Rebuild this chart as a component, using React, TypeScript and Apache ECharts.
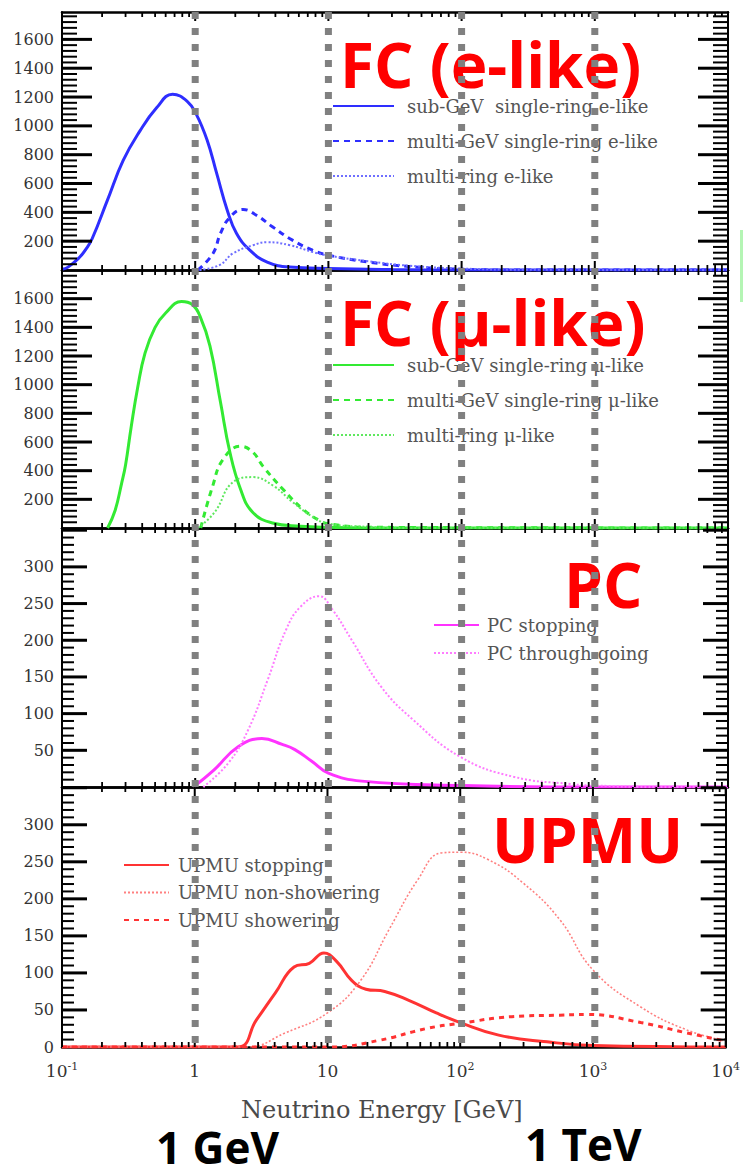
import React, { useEffect, useRef } from 'react';
import * as echarts from 'echarts';

// ---------------- data (energy in GeV, events) ----------------
// Panel 1: FC (e-like)
const subGeVeEnergy = [0.1, 0.111, 0.136, 0.15, 0.168, 0.219, 0.288, 0.385, 0.513, 0.676, 0.871, 1.02, 1.23, 1.45, 1.74, 2.04, 2.57, 3.47, 5.13, 10, 30, 100, 10000];
const subGeVeCount = [5, 20, 90, 140, 215, 483, 760, 965, 1125, 1220, 1170, 1080, 900, 670, 415, 255, 138, 55, 20, 10, 3, 0, 0];
const multiGeVeEnergy = [1.05, 1.36, 1.55, 1.82, 2.29, 2.88, 3.8, 5.37, 7.6, 10, 20, 40, 100, 300, 10000];
const multiGeVeCount = [0, 115, 255, 365, 420, 380, 300, 207, 138, 103, 55, 25, 5, 0, 0];
const multiRingEEnergy = [1.08, 1.53, 1.92, 2.72, 3.46, 5.15, 7.66, 10, 20, 40, 100, 300, 10000];
const multiRingECount = [0, 35, 115, 172, 193, 172, 124, 100, 60, 30, 10, 2, 0];

// Panel 2: FC (mu-like)
const subGeVmuEnergy = [0.22, 0.25, 0.28, 0.3, 0.33, 0.37, 0.42, 0.5, 0.6, 0.79, 0.946, 1.09, 1.29, 1.55, 1.82, 2.19, 2.7, 3.8, 6.2, 10, 30, 10000];
const subGeVmuCount = [0, 120, 310, 440, 700, 980, 1220, 1400, 1500, 1580, 1560, 1475, 1270, 875, 530, 270, 110, 35, 12, 5, 0, 0];
const multiGeVmuEnergy = [1.1, 1.35, 1.62, 2.19, 2.7, 3.23, 4.56, 6.45, 8.65, 10, 20, 10000];
const multiGeVmuCount = [0, 290, 480, 570, 530, 430, 270, 130, 50, 30, 5, 0];
const multiRingMuEnergy = [1.05, 1.4, 1.92, 2.7, 3.85, 5.4, 7.7, 10, 20, 50, 10000];
const multiRingMuCount = [0, 110, 320, 355, 295, 180, 75, 30, 8, 0, 0];

// Panel 3: PC
const pcStopEnergy = [0.97, 1.38, 2.1, 3.17, 4.5, 5.6, 7.5, 10, 17.8, 100, 1000, 10000];
const pcStopCount = [0, 23, 55, 66, 58, 51, 35, 19, 8, 2, 0, 0];
const pcThruEnergy = [1.15, 1.78, 2.5, 3.5, 4.8, 6.2, 8.5, 10.7, 15, 24.8, 43, 98, 245, 660, 1000, 3000, 10000];
const pcThruCount = [0, 33, 78, 146, 214, 246, 260, 242, 200, 137, 92, 41, 14, 4, 2, 0, 0];

// Panel 4: UPMU
const upmuStopEnergy = [0.1, 2.1, 2.9, 4.05, 5.6, 7.3, 9.4, 11.8, 15.2, 19.5, 27, 41, 66, 100, 195, 450, 1000, 10000];
const upmuStopCount = [0, 0, 36, 73, 108, 113, 127, 115, 90, 78, 75, 63, 46, 33, 16, 7, 2, 0];
const upmuNonShowerEnergy = [0.1, 2.5, 4.8, 10, 17.8, 29, 48, 72, 100, 162, 295, 562, 1000, 2290, 5100, 10000];
const upmuNonShowerCount = [0, 0, 19, 46, 90, 158, 226, 262, 263, 253, 222, 172, 104, 54, 23, 8];
const upmuShowerEnergy = [0.1, 10.7, 24.5, 56, 100, 245, 562, 900, 2290, 5100, 10000];
const upmuShowerCount = [0, 0, 9, 25, 32, 41, 43, 44, 33, 19, 8];

// axis ticks / markers
const markerEnergies = [1, 10, 100, 1000];
const decadeStarts = [0.1, 1, 10, 100, 1000];
const decadeTicks = [0.1, 1, 10, 100, 1000, 10000];
const minorMultipliers = [2, 3, 4, 5, 6, 7, 8, 9];

const pair = (es: number[], vs: number[]) => es.map((e, i) => [e, vs[i]]);

const SERIF = '"DejaVu Serif", "Liberation Serif", serif';
const AXIS = '#000';
const GRID_LEFT = 62;
const GRID_RIGHT = 15;

type S = { name: string; data: number[][]; color: string; width: number; dash: any };
type P = {
  top: number; height: number; yMax: number; interval: number; minorSplit: number;
  labelMin: number; labelMax: number; majorLen: number; minorLen: number;
  legend: { left: number; top: number; itemWidth: number; gap: number; pad: number };
  series: S[];
};

const panels: P[] = [
  {
    top: 12, height: 258, yMax: 1790, interval: 200, minorSplit: 5, labelMin: 200, labelMax: 1600, majorLen: 30, minorLen: 15,
    legend: { left: 332, top: 96, itemWidth: 61, gap: 15, pad: 8 },
    series: [
      { name: 'sub-GeV  single-ring e-like', data: pair(subGeVeEnergy, subGeVeCount), color: '#2e2eff', width: 3, dash: 'solid' },
      { name: 'multi-GeV single-ring e-like', data: pair(multiGeVeEnergy, multiGeVeCount), color: '#2e2eff', width: 3, dash: [6, 5] },
      { name: 'multi-ring e-like', data: pair(multiRingEEnergy, multiRingECount), color: '#6f6fff', width: 2, dash: [2, 2] },
    ],
  },
  {
    top: 270, height: 258, yMax: 1800, interval: 200, minorSplit: 5, labelMin: 200, labelMax: 1600, majorLen: 30, minorLen: 15,
    legend: { left: 332, top: 355, itemWidth: 61, gap: 15, pad: 8 },
    series: [
      { name: 'sub-GeV single-ring μ-like', data: pair(subGeVmuEnergy, subGeVmuCount), color: '#33ea33', width: 3, dash: 'solid' },
      { name: 'multi-GeV single-ring μ-like', data: pair(multiGeVmuEnergy, multiGeVmuCount), color: '#33ea33', width: 3, dash: [6, 5] },
      { name: 'multi-ring μ-like', data: pair(multiRingMuEnergy, multiRingMuCount), color: '#5fe85f', width: 2, dash: [2, 2] },
    ],
  },
  {
    top: 528, height: 259, yMax: 353, interval: 50, minorSplit: 5, labelMin: 50, labelMax: 300, majorLen: 25, minorLen: 12,
    legend: { left: 433, top: 615, itemWidth: 45, gap: 8, pad: 3 },
    series: [
      { name: 'PC stopping', data: pair(pcStopEnergy, pcStopCount), color: '#ff33ff', width: 3, dash: 'solid' },
      { name: 'PC through-going', data: pair(pcThruEnergy, pcThruCount), color: '#ff7cff', width: 2, dash: [2, 2] },
    ],
  },
  {
    top: 787, height: 260, yMax: 351, interval: 50, minorSplit: 5, labelMin: 0, labelMax: 300, majorLen: 25, minorLen: 12,
    legend: { left: 123, top: 855, itemWidth: 45, gap: 7.5, pad: 4 },
    series: [
      { name: 'UPMU stopping', data: pair(upmuStopEnergy, upmuStopCount), color: '#ff3333', width: 3, dash: 'solid' },
      { name: 'UPMU non-showering', data: pair(upmuNonShowerEnergy, upmuNonShowerCount), color: '#ff8080', width: 1.6, dash: [2, 2] },
      { name: 'UPMU showering', data: pair(upmuShowerEnergy, upmuShowerCount), color: '#ff3333', width: 3, dash: [5, 5] },
    ],
  },
];

const expLabel = (v: number) => {
  const n = Math.round(Math.log10(v));
  if (n === 0) return '{b|1}';
  if (n === 1) return '{b|10}';
  return '{b|10}{s|' + n + '}';
};

const bigLabel = (text: string, x: number, y: number, size: number, color: string) => ({
  type: 'text', x, y, z: 5,
  style: {
    text, fill: color, fontSize: size, fontWeight: 'bold', lineHeight: Math.round(size * 0.8),
    fontFamily: '"Open Sans", "Noto Sans", sans-serif', verticalAlign: 'middle',
  },
});

const labelGraphics = [
  bigLabel('FC (e-like)', 340, 64, 62, '#ff0000'),
  bigLabel('FC (μ-like)', 340, 322, 62, '#ff0000'),
  bigLabel('PC', 564, 584, 62, '#ff0000'),
  bigLabel('UPMU', 492, 839, 62, '#ff0000'),
  bigLabel('1 GeV', 156, 1147, 44, '#000000'),
  bigLabel('1 TeV', 525, 1144, 44, '#000000'),
  { type: 'rect', shape: { x: 740, y: 230, width: 3, height: 72 }, style: { fill: '#b4f5b4' }, z: 5 },
];

function buildOption() {
  const grid: any[] = [];
  const xAxis: any[] = [];
  const yAxis: any[] = [];
  const series: any[] = [];
  const legend: any[] = [];

  panels.forEach((p, i) => {
    grid.push({ left: GRID_LEFT, right: GRID_RIGHT, top: p.top, height: p.height });
    const xBase = {
      type: 'log', logBase: 10, min: 0.1, max: 10000, gridIndex: i,
      splitLine: { show: false },
      axisLine: { show: true, onZero: false, lineStyle: { color: AXIS, width: 2.5 } },
      axisTick: { show: false },
    };
    xAxis.push({
      ...xBase, position: 'bottom',
      axisLabel: i === 3
        ? {
            show: true, margin: 14, formatter: expLabel,
            rich: {
              b: { fontFamily: SERIF, fontSize: 17, color: '#333', lineHeight: 20 },
              s: { fontFamily: SERIF, fontSize: 11, color: '#333', verticalAlign: 'top', lineHeight: 12 },
            },
          }
        : { show: false },
      name: i === 3 ? 'Neutrino Energy [GeV]' : '',
      nameLocation: 'middle', nameGap: 51,
      nameTextStyle: { fontFamily: SERIF, fontSize: 24, color: '#4a4a4a', padding: [0, 24, 0, 0] },
    });
    xAxis.push({ ...xBase, position: 'top', axisLabel: { show: false } });
    const yBase = {
      type: 'value', min: 0, max: p.yMax, interval: p.interval, gridIndex: i,
      splitLine: { show: false },
      axisLine: { show: true, onZero: false, lineStyle: { color: AXIS, width: 2 } },
      axisTick: { show: false },
    };
    const lo = p.labelMin, hi = p.labelMax;
    yAxis.push({
      ...yBase, position: 'left',
      axisLabel: {
        show: true, margin: 8, showMinLabel: true, showMaxLabel: false,
        fontFamily: SERIF, fontSize: 16, color: '#333',
        formatter: (v: number) => (v < lo || v > hi ? '' : String(Math.round(v))),
      },
    });
    yAxis.push({ ...yBase, position: 'right', axisLabel: { show: false } });

    p.series.forEach((s) => {
      series.push({
        type: 'line', name: s.name, xAxisIndex: 2 * i, yAxisIndex: 2 * i,
        data: s.data, symbol: 'none', smooth: 0.45, silent: true,
        lineStyle: { color: s.color, width: s.width, type: s.dash },
        itemStyle: { color: s.color }, z: 3,
      });
    });

    legend.push({
      data: p.series.map((s) => s.name),
      orient: 'vertical', left: p.legend.left, top: p.legend.top, padding: 0,
      itemWidth: p.legend.itemWidth, itemHeight: 14, itemGap: p.legend.gap,
      selectedMode: false,
      itemStyle: { opacity: 0, borderWidth: 0 },
      textStyle: { fontFamily: SERIF, fontSize: 18, color: '#555', lineHeight: 20, padding: [0, 0, 0, p.legend.pad] },
    });
  });

  // overlay grid for the grey dotted marker lines
  grid.push({ left: GRID_LEFT, right: GRID_RIGHT, top: 12, height: 1040 });
  xAxis.push({ type: 'log', logBase: 10, min: 0.1, max: 10000, gridIndex: 4, show: false });
  yAxis.push({ type: 'value', min: 0, max: 1, gridIndex: 4, show: false });
  series.push({
    type: 'custom', xAxisIndex: 8, yAxisIndex: 8, silent: true, z: 12,
    data: markerEnergies.map((e) => [e, 0]),
    renderItem: (_params: any, api: any) => {
      const e = api.value(0);
      const a = api.coord([e, 1]);
      const b = api.coord([e, 0]);
      return {
        type: 'line',
        shape: { x1: a[0], y1: a[1], x2: b[0], y2: b[1] },
        style: { stroke: '#808080', lineWidth: 7, lineDash: [7, 9] },
      };
    },
  });

  return {
    animation: false,
    backgroundColor: '#ffffff',
    grid, xAxis, yAxis, series, legend,
    graphic: labelGraphics,
  };
}

// inside ticks on all four sides of each panel, positioned through the panel's own axes
function buildTickGraphics(chart: any) {
  const out: any[] = [];
  const xPositions: number[][] = [];
  decadeTicks.forEach((d) => xPositions.push([d, 9, 2]));
  decadeStarts.forEach((d) => minorMultipliers.forEach((m) => xPositions.push([d * m, 5, 1.8])));

  panels.forEach((p, i) => {
    const finder = { xAxisIndex: 2 * i, yAxisIndex: 2 * i };
    xPositions.forEach(([e, len, w]) => {
      const b = chart.convertToPixel(finder, [e, 0]);
      const t = chart.convertToPixel(finder, [e, p.yMax]);
      if (!b || !t) return;
      out.push({ type: 'rect', silent: true, z: 6, shape: { x: b[0] - w / 2, y: b[1] - len, width: w, height: len }, style: { fill: AXIS } });
      out.push({ type: 'rect', silent: true, z: 6, shape: { x: t[0] - w / 2, y: t[1], width: w, height: len }, style: { fill: AXIS } });
    });
    const step = p.interval / p.minorSplit;
    for (let k = 1; k * step < p.yMax; k++) {
      const major = k % p.minorSplit === 0;
      const len = major ? p.majorLen : p.minorLen;
      const w = major ? 3 : 2;
      const l = chart.convertToPixel(finder, [0.1, k * step]);
      const r = chart.convertToPixel(finder, [10000, k * step]);
      if (!l || !r) continue;
      out.push({ type: 'rect', silent: true, z: 6, shape: { x: l[0], y: l[1] - w / 2, width: len, height: w }, style: { fill: AXIS } });
      out.push({ type: 'rect', silent: true, z: 6, shape: { x: r[0] - len, y: r[1] - w / 2, width: len, height: w }, style: { fill: AXIS } });
    }
  });
  return out;
}

export default function App() {
  const ref = useRef<HTMLDivElement>(null);
  useEffect(() => {
    if (!ref.current) return;
    const chart = echarts.init(ref.current, null, { renderer: 'svg' });
    chart.setOption(buildOption() as any);
    const ticks = buildTickGraphics(chart);
    chart.setOption({ graphic: [...labelGraphics, ...ticks] } as any, { replaceMerge: ['graphic'] } as any);
    return () => chart.dispose();
  }, []);
  return (
    <div
      ref={ref}
      style={{ position: 'absolute', left: 0, top: 0, width: 743, height: 1176, background: '#fff' }}
    />
  );
}
